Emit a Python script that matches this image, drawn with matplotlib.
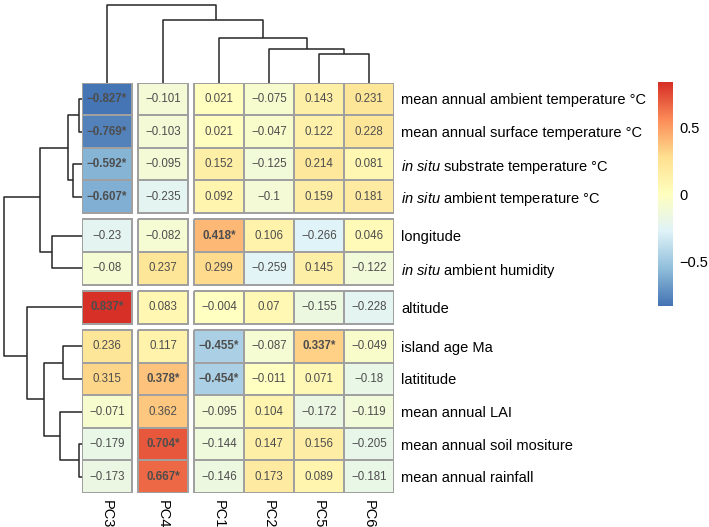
import numpy as np
import matplotlib
matplotlib.use("Agg")
import matplotlib.pyplot as plt
from matplotlib.colors import LinearSegmentedColormap, Normalize

plt.rcParams['font.family'] = ['Liberation Sans', 'DejaVu Sans']
plt.rcParams['mathtext.fontset'] = 'custom'
plt.rcParams['mathtext.rm'] = 'Liberation Sans'
plt.rcParams['mathtext.it'] = 'Liberation Sans:italic'

# columns / rows in the clustered display order
columns = ['PC3', 'PC4', 'PC1', 'PC2', 'PC5', 'PC6']
rows = [
    'mean annual ambient temperature °C',
    'mean annual surface temperature °C',
    r'$\mathit{in\ situ}$ substrate temperature °C',
    r'$\mathit{in\ situ}$ ambient temperature °C',
    'longitude',
    r'$\mathit{in\ situ}$ ambient humidity',
    'altitude',
    'island age Ma',
    'latititude',
    'mean annual LAI',
    'mean annual soil mositure',
    'mean annual rainfall',
]

loadings = np.array([
    [-0.827, -0.101, 0.021, -0.075, 0.143, 0.231],
    [-0.769, -0.103, 0.021, -0.047, 0.122, 0.228],
    [-0.592, -0.095, 0.152, -0.125, 0.214, 0.081],
    [-0.607, -0.235, 0.092, -0.1, 0.159, 0.181],
    [-0.23, -0.082, 0.418, 0.106, -0.266, 0.046],
    [-0.08, 0.237, 0.299, -0.259, 0.145, -0.122],
    [0.837, 0.083, -0.004, 0.07, -0.155, -0.228],
    [0.236, 0.117, -0.455, -0.087, 0.337, -0.049],
    [0.315, 0.378, -0.454, -0.011, 0.071, -0.18],
    [-0.071, 0.362, -0.095, 0.104, -0.172, -0.119],
    [-0.179, 0.704, -0.144, 0.147, 0.156, -0.205],
    [-0.173, 0.667, -0.146, 0.173, 0.089, -0.181],
])

signif = np.array([
    [1, 0, 0, 0, 0, 0],
    [1, 0, 0, 0, 0, 0],
    [1, 0, 0, 0, 0, 0],
    [1, 0, 0, 0, 0, 0],
    [0, 0, 1, 0, 0, 0],
    [0, 0, 0, 0, 0, 0],
    [1, 0, 0, 0, 0, 0],
    [0, 0, 1, 0, 1, 0],
    [0, 1, 1, 0, 0, 0],
    [0, 0, 0, 0, 0, 0],
    [0, 1, 0, 0, 0, 0],
    [0, 1, 0, 0, 0, 0],
], dtype=bool)

row_gaps = [4, 6, 7]
col_gaps = [1, 2]

# merges (child a, child b, relative height); leaves 0..n-1, new nodes n, n+1, ...
row_merge = [
    (0, 1, 0.038), (2, 3, 0.119), (12, 13, 0.179), (4, 5, 0.388),
    (14, 15, 0.538), (10, 11, 0.042), (7, 8, 0.240), (9, 17, 0.282),
    (18, 19, 0.483), (6, 20, 0.709), (16, 21, 1.0),
]
col_merge = [(4, 5, 0.364), (3, 6, 0.428), (2, 7, 0.577), (1, 8, 0.808), (0, 9, 1.0)]

palette = ['#4575B4', '#91BFDB', '#E0F3F8', '#FFFFBF', '#FEE090', '#FC8D59', '#D73027']
cmap = LinearSegmentedColormap.from_list('rdylbu', palette, N=100)
norm = Normalize(vmin=loadings.min(), vmax=loadings.max())

W, H = 709, 527
gx, gy = 6 / 50, 6.37 / 32.6


def gapped(u, gaps, g):
    return u + g * sum(u > k for k in gaps)


def blocks(n, gaps):
    b = [0] + gaps + [n]
    return [(b[i], b[i + 1]) for i in range(len(b) - 1)]


def dendro_lines(merge, n, gaps, g):
    pos = {i: i + 0.5 for i in range(n)}
    hgt = {i: 0.0 for i in range(n)}
    segs = []
    for k, (a, b, h) in enumerate(merge):
        pos[n + k] = (pos[a] + pos[b]) / 2
        hgt[n + k] = h
        xa, xb = gapped(pos[a], gaps, g), gapped(pos[b], gaps, g)
        segs.append(([xa, xa, xb, xb], [hgt[a], h, h, hgt[b]]))
    return segs


fig = plt.figure(figsize=(W / 100, H / 100), dpi=100)

def px_axes(x0, y0, x1, y1):
    return fig.add_axes([x0 / W, 1 - y1 / H, (x1 - x0) / W, (y1 - y0) / H])

nr, nc = loadings.shape
xmax = nc + gx * len(col_gaps)
ymax = nr + gy * len(row_gaps)

ax = px_axes(82, 82.7, 394, 493)
for r0, r1 in blocks(nr, row_gaps):
    for c0, c1 in blocks(nc, col_gaps):
        xe = np.arange(c0, c1 + 1) + gx * sum(c0 >= k for k in col_gaps)
        ye = np.arange(r0, r1 + 1) + gy * sum(r0 >= k for k in row_gaps)
        ax.pcolormesh(xe, ye, loadings[r0:r1, c0:c1], cmap=cmap, norm=norm,
                      edgecolors='#a0a0a0', linewidth=1.1)

for i in range(nr):
    for j in range(nc):
        v = loadings[i, j]
        s = f"{v:g}".replace('-', '\u2212') + ('*' if signif[i, j] else '')
        ax.text(gapped(j + 0.5, col_gaps, gx), gapped(i + 0.5, row_gaps, gy), s,
                ha='center', va='center', fontsize=8.3, color='#4d4d4d',
                fontweight='bold' if signif[i, j] else 'normal')

ax.set_xlim(0, xmax)
ax.set_ylim(ymax, 0)
ax.set_xticks([gapped(j + 0.5, col_gaps, gx) for j in range(nc)])
ax.set_xticklabels(columns, rotation=-90, fontsize=10.5, va='top')
ax.set_yticks([gapped(i + 0.5, row_gaps, gy) for i in range(nr)])
ax.set_yticklabels(rows, fontsize=10.5)
ax.yaxis.tick_right()
ax.tick_params(length=0)
ax.tick_params(axis='x', pad=5)
ax.tick_params(axis='y', pad=5)
for sp in ax.spines.values():
    sp.set_visible(False)

# column dendrogram
axt = px_axes(82, 0.7, 394, 82.7)
for xs, ys in dendro_lines(col_merge, nc, col_gaps, gx):
    axt.plot(xs, ys, color='#262626', lw=1.1, solid_capstyle='butt', clip_on=False)
axt.set_xlim(0, xmax)
axt.set_ylim(0, 1.05)
axt.axis('off')

# row dendrogram
axl = px_axes(0, 82.7, 82, 493)
for ys, xs in dendro_lines(row_merge, nr, row_gaps, gy):
    axl.plot(xs, ys, color='#262626', lw=1.1, solid_capstyle='butt', clip_on=False)
axl.set_ylim(ymax, 0)
axl.set_xlim(1.05, 0)
axl.axis('off')

# colour legend
axc = px_axes(657.7, 82, 672, 306)
grad = np.linspace(norm.vmin, norm.vmax, 100).reshape(-1, 1)
axc.imshow(grad, cmap=cmap, norm=norm, aspect='auto', origin='lower',
           extent=[0, 1, norm.vmin, norm.vmax])
axc.set_xticks([])
axc.yaxis.tick_right()
axc.set_yticks([-0.5, 0, 0.5])
axc.set_yticklabels(['\u22120.5', '0', '0.5'], fontsize=10.5)
axc.tick_params(length=0, pad=5)
for sp in axc.spines.values():
    sp.set_visible(False)

fig.savefig('out.png', dpi=100)
